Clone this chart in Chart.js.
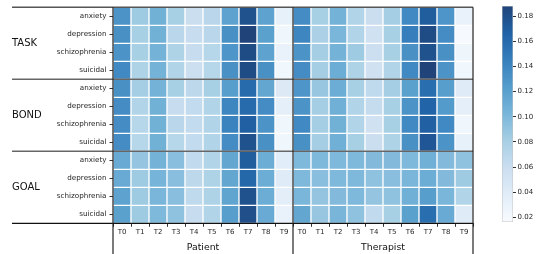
<!DOCTYPE html>
<html><head><meta charset="utf-8">
<script src="https://cdn.jsdelivr.net/npm/chart.js@4"></script>
<style>
html,body{margin:0;padding:0;background:#fff;overflow:hidden}
#wrap{position:relative;width:541px;height:254px}
canvas{position:absolute;top:0}
#c{left:0}
#cb{left:480px}
</style></head>
<body><div id="wrap"><canvas id="c" width="541" height="254"></canvas><canvas id="cb" width="61" height="254"></canvas></div>
<script>
// ---- data ----
const steps = ['T0','T1','T2','T3','T4','T5','T6','T7','T8','T9'];
const sides = ['Patient','Therapist'];
const groups = ['TASK','BOND','GOAL'];
const conditions = ['anxiety','depression','schizophrenia','suicidal'];
const colorbarTicks = [0.02,0.04,0.06,0.08,0.10,0.12,0.14,0.16,0.18];
const vmin = 0.0163, vmax = 0.188;

// rows: anxiety, depression, schizophrenia, suicidal ; columns T0..T9
const patientTask = [
  [0.130,0.085,0.107,0.080,0.060,0.070,0.118,0.178,0.118,0.033],
  [0.132,0.080,0.107,0.070,0.062,0.070,0.132,0.188,0.120,0.025],
  [0.130,0.080,0.105,0.077,0.062,0.072,0.128,0.182,0.118,0.030],
  [0.138,0.077,0.105,0.075,0.058,0.072,0.132,0.182,0.132,0.022]
];
const patientBond = [
  [0.132,0.082,0.105,0.080,0.068,0.080,0.122,0.160,0.115,0.042],
  [0.135,0.075,0.107,0.062,0.064,0.075,0.140,0.160,0.135,0.035],
  [0.135,0.072,0.107,0.070,0.064,0.075,0.142,0.168,0.130,0.025],
  [0.135,0.072,0.107,0.072,0.064,0.075,0.135,0.178,0.132,0.025]
];
const patientGoal = [
  [0.112,0.090,0.105,0.095,0.065,0.075,0.115,0.170,0.110,0.038],
  [0.112,0.085,0.104,0.095,0.068,0.077,0.115,0.162,0.110,0.040],
  [0.118,0.085,0.102,0.095,0.066,0.077,0.117,0.178,0.110,0.036],
  [0.120,0.085,0.100,0.092,0.062,0.075,0.122,0.180,0.112,0.030]
];
const therapistTask = [
  [0.135,0.080,0.105,0.075,0.060,0.082,0.138,0.170,0.128,0.030],
  [0.140,0.078,0.102,0.075,0.055,0.080,0.145,0.182,0.135,0.018],
  [0.130,0.082,0.105,0.085,0.058,0.080,0.132,0.178,0.132,0.026],
  [0.135,0.082,0.110,0.077,0.055,0.075,0.138,0.188,0.130,0.022]
];
const therapistBond = [
  [0.128,0.088,0.110,0.080,0.066,0.082,0.120,0.158,0.122,0.040],
  [0.130,0.082,0.108,0.075,0.063,0.080,0.130,0.165,0.125,0.035],
  [0.138,0.082,0.107,0.075,0.055,0.080,0.138,0.168,0.138,0.025],
  [0.132,0.082,0.108,0.080,0.060,0.077,0.132,0.175,0.130,0.033]
];
const therapistGoal = [
  [0.100,0.100,0.100,0.100,0.098,0.098,0.100,0.108,0.098,0.092],
  [0.100,0.095,0.100,0.100,0.092,0.095,0.102,0.110,0.098,0.085],
  [0.102,0.090,0.098,0.100,0.090,0.092,0.108,0.122,0.102,0.075],
  [0.115,0.088,0.103,0.092,0.065,0.080,0.120,0.158,0.112,0.040]
];

// ---- build ----
const patientByGroup = [patientTask, patientBond, patientGoal];
const therapistByGroup = [therapistTask, therapistBond, therapistGoal];
const xLabels = sides.flatMap(() => steps);
const rowLabels = groups.flatMap(() => conditions);
const matrix = [];
groups.forEach((g, gi) => conditions.forEach((c, ci) => {
  matrix.push(patientByGroup[gi][ci].concat(therapistByGroup[gi][ci]));
}));

const ALPHA = 0.9;
const BLUES = ['#f7fbff','#deebf7','#c6dbef','#9ecae1','#6baed6','#4292c6','#2171b5','#08519c','#08306b'];
function hex2rgb(h){return [parseInt(h.slice(1,3),16),parseInt(h.slice(3,5),16),parseInt(h.slice(5,7),16)];}
const BL = BLUES.map(hex2rgb);
function blues(t){
  t = Math.max(0, Math.min(1, t));
  const p = t * 8, i = Math.min(7, Math.floor(p)), f = p - i;
  const a = BL[i], b = BL[i+1];
  return 'rgba(' + a.map((v,k)=>Math.round(v + (b[k]-v)*f)).join(',') + ',' + ALPHA + ')';
}
const norm = v => (v - vmin) / (vmax - vmin);

const datasets = matrix.map((vals, r) => ({
  label: rowLabels[r],
  vals: vals,
  data: xLabels.map(() => [r - 0.5, r + 0.5]),
  backgroundColor: ctx => blues(norm(ctx.dataset.vals[ctx.dataIndex])),
  borderColor: '#ffffff',
  borderWidth: 1,
  borderSkipped: false,
  grouped: false,
  barPercentage: 1,
  categoryPercentage: 1
}));

const FONT = "'DejaVu Sans', sans-serif";
const overlay = {
  id: 'overlay',
  afterDraw(chart) {
    const {ctx, scales: {x, y}, chartArea: ca} = chart;
    ctx.save();
    const yTop = y.getPixelForValue(-0.5), yBot = y.getPixelForValue(11.5);
    const mid = (x.getPixelForValue(9) + x.getPixelForValue(10)) / 2;
    // horizontal separators
    ctx.lineWidth = 1.5;
    [[-0.5,'#555'],[3.5,'#666'],[7.5,'#666']].forEach(([v,col]) => {
      const py = y.getPixelForValue(v);
      ctx.strokeStyle = col;
      ctx.beginPath(); ctx.moveTo(12, py); ctx.lineTo(ca.right, py); ctx.stroke();
    });
    ctx.strokeStyle = '#111'; ctx.lineWidth = 1.3;
    ctx.beginPath(); ctx.moveTo(12, yBot); ctx.lineTo(ca.right, yBot); ctx.stroke();
    // vertical lines
    ctx.strokeStyle = '#222'; ctx.lineWidth = 1.2;
    [ca.left, mid, ca.right].forEach(px => {
      ctx.beginPath(); ctx.moveTo(px, yTop); ctx.lineTo(px, 254); ctx.stroke();
    });
    // group labels
    ctx.fillStyle = '#111';
    ctx.font = '10px ' + FONT;
    ctx.textAlign = 'left'; ctx.textBaseline = 'middle';
    groups.forEach((g, gi) => {
      ctx.fillText(g, 12, y.getPixelForValue(gi * 4 + 1.5));
    });
    // side labels
    ctx.font = '9.3px ' + FONT;
    ctx.textAlign = 'center';
    sides.forEach((s, si) => {
      const cx = (x.getPixelForValue(si * 10) + x.getPixelForValue(si * 10 + 9)) / 2;
      ctx.fillText(s, cx, 247.5);
    });
    ctx.restore();
  }
};

new Chart(document.getElementById('c'), {
  type: 'bar',
  data: { labels: xLabels, datasets },
  options: {
    responsive: false, animation: false,
    layout: { padding: { left: 0, top: 6.7, right: 68, bottom: 0 } },
    plugins: { legend: { display: false }, tooltip: { enabled: false } },
    scales: {
      x: {
        type: 'category',
        offset: true,
        grid: { display: true, drawOnChartArea: false, drawTicks: true, tickLength: 3.5, color: '#333' },
        border: { display: false },
        ticks: { font: { size: 7, family: FONT }, color: '#262626', padding: 1.5, maxRotation: 0, autoSkip: false },
        afterFit: s => { s.height = 254 - 223.3; }
      },
      y: {
        type: 'linear',
        min: -0.5, max: 11.5, reverse: true,
        grid: { display: true, drawOnChartArea: false, drawTicks: true, tickLength: 3.5, color: '#333' },
        border: { display: false },
        afterBuildTicks: s => { s.ticks = rowLabels.map((_, i) => ({ value: i })); },
        ticks: { font: { size: 7.2, family: FONT }, color: '#262626', padding: 3, autoSkip: false,
                 callback: v => rowLabels[v] },
        afterFit: s => { s.width = 113; }
      }
    }
  },
  plugins: [overlay]
});

// ---- colorbar ----
new Chart(document.getElementById('cb'), {
  type: 'bar',
  data: {
    labels: [''],
    datasets: [{
      data: [[vmin, vmax]],
      backgroundColor: ctx => {
        const ca = ctx.chart.chartArea;
        if (!ca) return BLUES[4];
        const g = ctx.chart.ctx.createLinearGradient(0, ca.bottom, 0, ca.top);
        BLUES.forEach((c, i) => g.addColorStop(i / 8, blues(i / 8)));
        return g;
      },
      borderColor: '#c8c8c8', borderWidth: 0.8, borderSkipped: false,
      barPercentage: 1, categoryPercentage: 1
    }]
  },
  options: {
    responsive: false, animation: false,
    layout: { padding: { left: 22, top: 6, right: 0, bottom: 32 } },
    plugins: { legend: { display: false }, tooltip: { enabled: false } },
    scales: {
      x: { display: false },
      y: {
        type: 'linear', position: 'right', min: vmin, max: vmax,
        grid: { display: true, drawOnChartArea: false, drawTicks: true, tickLength: 3, color: '#333' },
        border: { display: false },
        afterBuildTicks: s => { s.ticks = colorbarTicks.map(v => ({ value: v })); },
        ticks: { font: { size: 7, family: FONT }, color: '#262626', padding: 1.5,
                 callback: v => v.toFixed(2) },
        afterFit: s => { s.width = 28; }
      }
    }
  }
});
</script>
</body></html>
